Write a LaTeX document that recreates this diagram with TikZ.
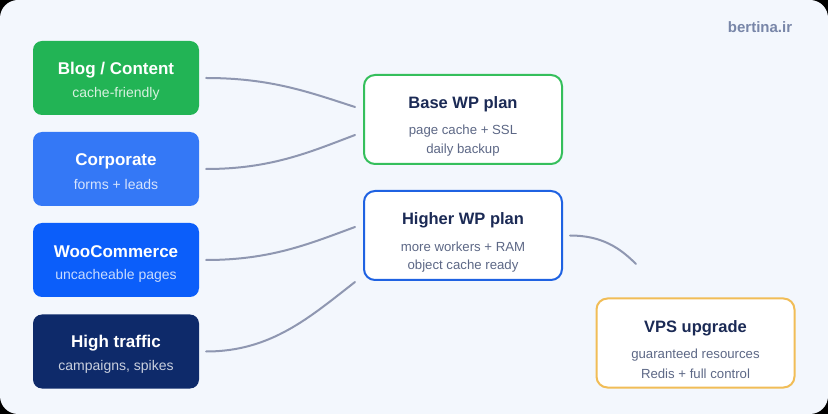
\documentclass[tikz,border=0pt]{standalone}
\usepackage{fontspec}
\setmainfont{Liberation Sans}
\usetikzlibrary{calc}
\definecolor{bgc}{HTML}{F3F7FD}
\definecolor{cgreen}{HTML}{22B455}
\definecolor{ccorp}{HTML}{3478F6}
\definecolor{cwoo}{HTML}{0B5EFA}
\definecolor{cnavy}{HTML}{0E2A6A}
\definecolor{bgreen}{HTML}{35BF5C}
\definecolor{bblue}{HTML}{1F62E2}
\definecolor{borange}{HTML}{F1BD57}
\definecolor{tnavy}{HTML}{1B2A55}
\definecolor{tgray}{HTML}{5D6886}
\definecolor{lnc}{HTML}{8F97B1}
\definecolor{brand}{HTML}{7886A8}
\tikzset{
  x=1pt,y=-1pt,
  srcbox/.style={rounded corners=9pt, minimum width=166pt, minimum height=74pt, inner sep=0pt, draw=none},
  planbox/.style={rounded corners=11pt, minimum width=198pt, minimum height=89pt, inner sep=0pt, fill=white, line width=2pt},
  srctitle/.style={font=\bfseries\fontsize{17}{20}\selectfont, text=white, inner sep=0pt},
  srcsub/.style={font=\fontsize{14}{16}\selectfont, inner sep=0pt},
  plantitle/.style={font=\bfseries\fontsize{16.5}{20}\selectfont, text=tnavy, inner sep=0pt},
  plansub/.style={font=\fontsize{13.2}{16}\selectfont, text=tgray, inner sep=0pt},
  conn/.style={draw=lnc, line width=2pt, line cap=round}
}
\begin{document}
\begin{tikzpicture}
\useasboundingbox (0,0) rectangle (828,414);
\fill[black] (0,0) rectangle (828,414);
\fill[bgc, rounded corners=18pt] (0,0) rectangle (828,414);

\node[font=\bfseries\fontsize{15}{18}\selectfont, text=brand, inner sep=0pt] (brand) at (760,27) {bertina.ir};

% source boxes
\node[srcbox, fill=cgreen] (blog) at (116,78) {};
\node[srctitle] (blogt) at (116,70) {Blog / Content};
\node[srcsub, text=white!82!cgreen] (blogs) at (116,93.5) {cache-friendly};

\node[srcbox, fill=ccorp] (corp) at (116,169) {};
\node[srctitle] (corpt) at (116,161) {Corporate};
\node[srcsub, text=white!80!ccorp] (corps) at (116,184.5) {forms + leads};

\node[srcbox, fill=cwoo] (woo) at (116,260) {};
\node[srctitle] (woot) at (116,252) {WooCommerce};
\node[srcsub, text=white!78!cwoo] (woos) at (116,275.5) {uncacheable pages};

\node[srcbox, fill=cnavy] (high) at (116,351.5) {};
\node[srctitle] (hight) at (116,343.5) {High traffic};
\node[srcsub, text=white!78!cnavy] (highs) at (116,367) {campaigns, spikes};

% plan boxes
\node[planbox, draw=bgreen] (base) at (463,119.5) {};
\node[plantitle] (baset) at (463,104.5) {Base WP plan};
\node[plansub] (bases1) at (463,131.5) {page cache + SSL};
\node[plansub] (bases2) at (463,150) {daily backup};

\node[planbox, draw=bblue] (higher) at (463,235.5) {};
\node[plantitle] (highert) at (463,220.5) {Higher WP plan};
\node[plansub] (highers1) at (463,247) {more workers + RAM};
\node[plansub] (highers2) at (463,266.5) {object cache ready};

\node[planbox, draw=borange] (vps) at (695.5,343) {};
\node[plantitle] (vpst) at (695.5,328) {VPS upgrade};
\node[plansub] (vpss1) at (695.5,355) {guaranteed resources};
\node[plansub] (vpss2) at (695.5,373.5) {Redis + full control};

% connector endpoints
\coordinate (e1) at ($(base.west)+(-8,-12.5)$);
\coordinate (e2) at ($(base.west)+(-8,15.5)$);
\coordinate (e3) at ($(higher.west)+(-8,-8.5)$);
\coordinate (e4) at ($(higher.west)+(-8,46.5)$);
\coordinate (e5) at ($(higher.east)+(73,28.5)$);

\draw[conn] ([xshift=7pt]blog.east) .. controls +(65,0) and +(-45,-14.5) .. (e1);
\draw[conn] ([xshift=7pt]corp.east) .. controls +(65,0) and +(-45,17) .. (e2);
\draw[conn] ([xshift=7pt]woo.east) .. controls +(65,0) and +(-45,16.5) .. (e3);
\draw[conn] ([xshift=7pt]high.east) .. controls +(65,0) and +(-45,35) .. (e4);
\draw[conn] ([xshift=7pt]higher.east) .. controls +(32,0) and +(-16,-16) .. (e5);
\end{tikzpicture}
\end{document}
